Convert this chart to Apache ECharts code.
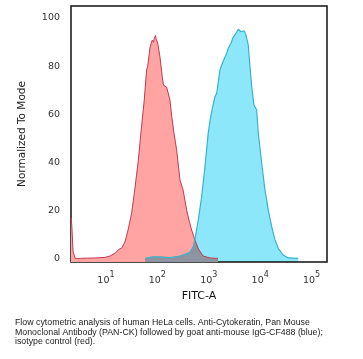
<!DOCTYPE html>
<html>
<head>
<meta charset="utf-8">
<script src="https://cdn.jsdelivr.net/npm/echarts@6/dist/echarts.min.js"></script>
<style>html,body{margin:0;padding:0;background:#fff}#c{width:363px;height:359px}</style>
</head>
<body>
<div id="c"></div>
<script>
// Isotype control (red): x = log10(FITC-A), y = % of mode
const isoLog  = [0.32, 0.335, 0.36, 0.40, 0.50, 0.65, 0.80, 0.98, 1.08, 1.18, 1.25, 1.31, 1.37, 1.43, 1.50, 1.56, 1.63, 1.68, 1.745, 1.79, 1.81, 1.86, 1.90, 1.925, 1.94, 1.963, 1.98, 2.006, 2.05, 2.095, 2.12, 2.15, 2.18, 2.245, 2.28, 2.323, 2.375, 2.44, 2.50, 2.57, 2.62, 2.667, 2.73, 2.80, 2.89, 3.02, 3.18];
const isoMode = [17, 14, 3, 0, 0, 0.1, 0.2, 0.4, 1.0, 2.3, 3.7, 4.4, 6.9, 11.8, 18.9, 28.5, 40.9, 52.2, 65.9, 78.4, 79.7, 88.1, 90.8, 89.9, 91.5, 92.7, 91.0, 89.6, 83.9, 75.6, 72.0, 71.3, 71.3, 65.9, 59.0, 52.2, 45.1, 32.6, 28.5, 20.1, 15.5, 11.8, 7.7, 3.9, 1.0, 0.2, 0];
// Anti-Cytokeratin (blue)
const antiLog  = [1.76, 1.90, 2.05, 2.25, 2.44, 2.63, 2.70, 2.73, 2.796, 2.862, 2.926, 2.99, 3.03, 3.076, 3.121, 3.154, 3.218, 3.263, 3.29, 3.348, 3.379, 3.432, 3.465, 3.50, 3.529, 3.574, 3.60, 3.626, 3.655, 3.685, 3.724, 3.768, 3.802, 3.835, 3.879, 3.932, 3.963, 4.029, 4.093, 4.158, 4.224, 4.288, 4.352, 4.449, 4.547, 4.74];
const antiMode = [0, 0.6, 0.6, 0.3, 1.0, 2.4, 4.9, 7.7, 16.0, 25.7, 38.1, 52.2, 58.0, 63.1, 67.3, 68.7, 78.4, 81.2, 81.5, 85.3, 87.4, 89.5, 91.6, 92.2, 93.6, 95.3, 94.6, 94.3, 93.6, 94.7, 92.9, 88.8, 79.7, 71.4, 63.8, 61.7, 52.2, 39.7, 28.5, 20.1, 13.2, 7.7, 4.2, 1.4, 0.2, 0];
// Tick labels
const xTickExp = [1, 2, 3, 4, 5];
const yTicks = [0, 20, 40, 60, 80, 100];
const captionLines = [
  'Flow cytometric analysis of human HeLa cells. Anti-Cytokeratin, Pan Mouse',
  'Monoclonal Antibody (PAN-CK) followed by goat anti-mouse IgG-CF488 (blue);',
  'isotype control (red).'
];

const BLUE_FILL = '#8de7fb';
const chart = echarts.init(document.getElementById('c'), null, {renderer: 'canvas'});
const pairs = (xs, ys) => xs.map((x, i) => [x, ys[i]]);

chart.setOption({
  animation: false,
  grid: {left: 71, right: 36, top: 6, bottom: 97, show: true, borderColor: '#111', borderWidth: 1.5, backgroundColor: 'transparent'},
  xAxis: {
    type: 'value', min: 0.32, max: 5.3,
    name: 'FITC-A', nameLocation: 'middle', nameGap: 29,
    nameTextStyle: {fontFamily: 'DejaVu Sans', fontSize: 11, color: '#111'},
    axisLine: {show: false}, axisTick: {show: false}, splitLine: {show: false},
    axisLabel: {
      customValues: xTickExp, margin: 9,
      formatter: v => '{b|10}{s|' + v + '}',
      rich: {
        b: {fontFamily: 'DejaVu Sans', fontSize: 9.5, color: '#333', lineHeight: 15, verticalAlign: 'bottom'},
        s: {fontFamily: 'DejaVu Sans', fontSize: 8, color: '#333', lineHeight: 10, verticalAlign: 'top'}
      }
    }
  },
  yAxis: {
    type: 'value', min: -1.5, max: 105,
    name: 'Normalized To Mode', nameLocation: 'middle', nameGap: 43,
    nameTextStyle: {fontFamily: 'DejaVu Sans', fontSize: 10.5, color: '#222'},
    axisLine: {show: false}, axisTick: {show: false}, splitLine: {show: false},
    axisLabel: {customValues: yTicks, margin: 11, fontFamily: 'DejaVu Sans', fontSize: 9.5, color: '#333'}
  },
  series: [
    {
      type: 'line', data: pairs(isoLog, isoMode), symbol: 'none', smooth: false,
      lineStyle: {color: '#bf3a50', width: 1},
      areaStyle: {color: '#ffa3a3', opacity: 1, origin: 'start'}
    },
    {
      type: 'line', data: pairs(antiLog, antiMode), symbol: 'none', smooth: false,
      lineStyle: {color: '#39b3c9', width: 1.2},
      areaStyle: {color: BLUE_FILL, opacity: 1, origin: 'start'}
    }
  ],
  graphic: captionLines.map((t, i) => ({
    type: 'text', left: 15, top: 318.5 + i * 9.5,
    style: {text: t, fontFamily: 'Liberation Sans', fontSize: 8.8, fill: '#222'}
  }))
});

// overlap rendered with multiply blending, as in the original overlay
chart.getZr().storage.getDisplayList(true).forEach(el => {
  if (el.style && el.style.fill === BLUE_FILL) { el.style.blend = 'multiply'; el.markRedraw(); }
});
chart.getZr().refreshImmediately();
</script>
</body>
</html>
